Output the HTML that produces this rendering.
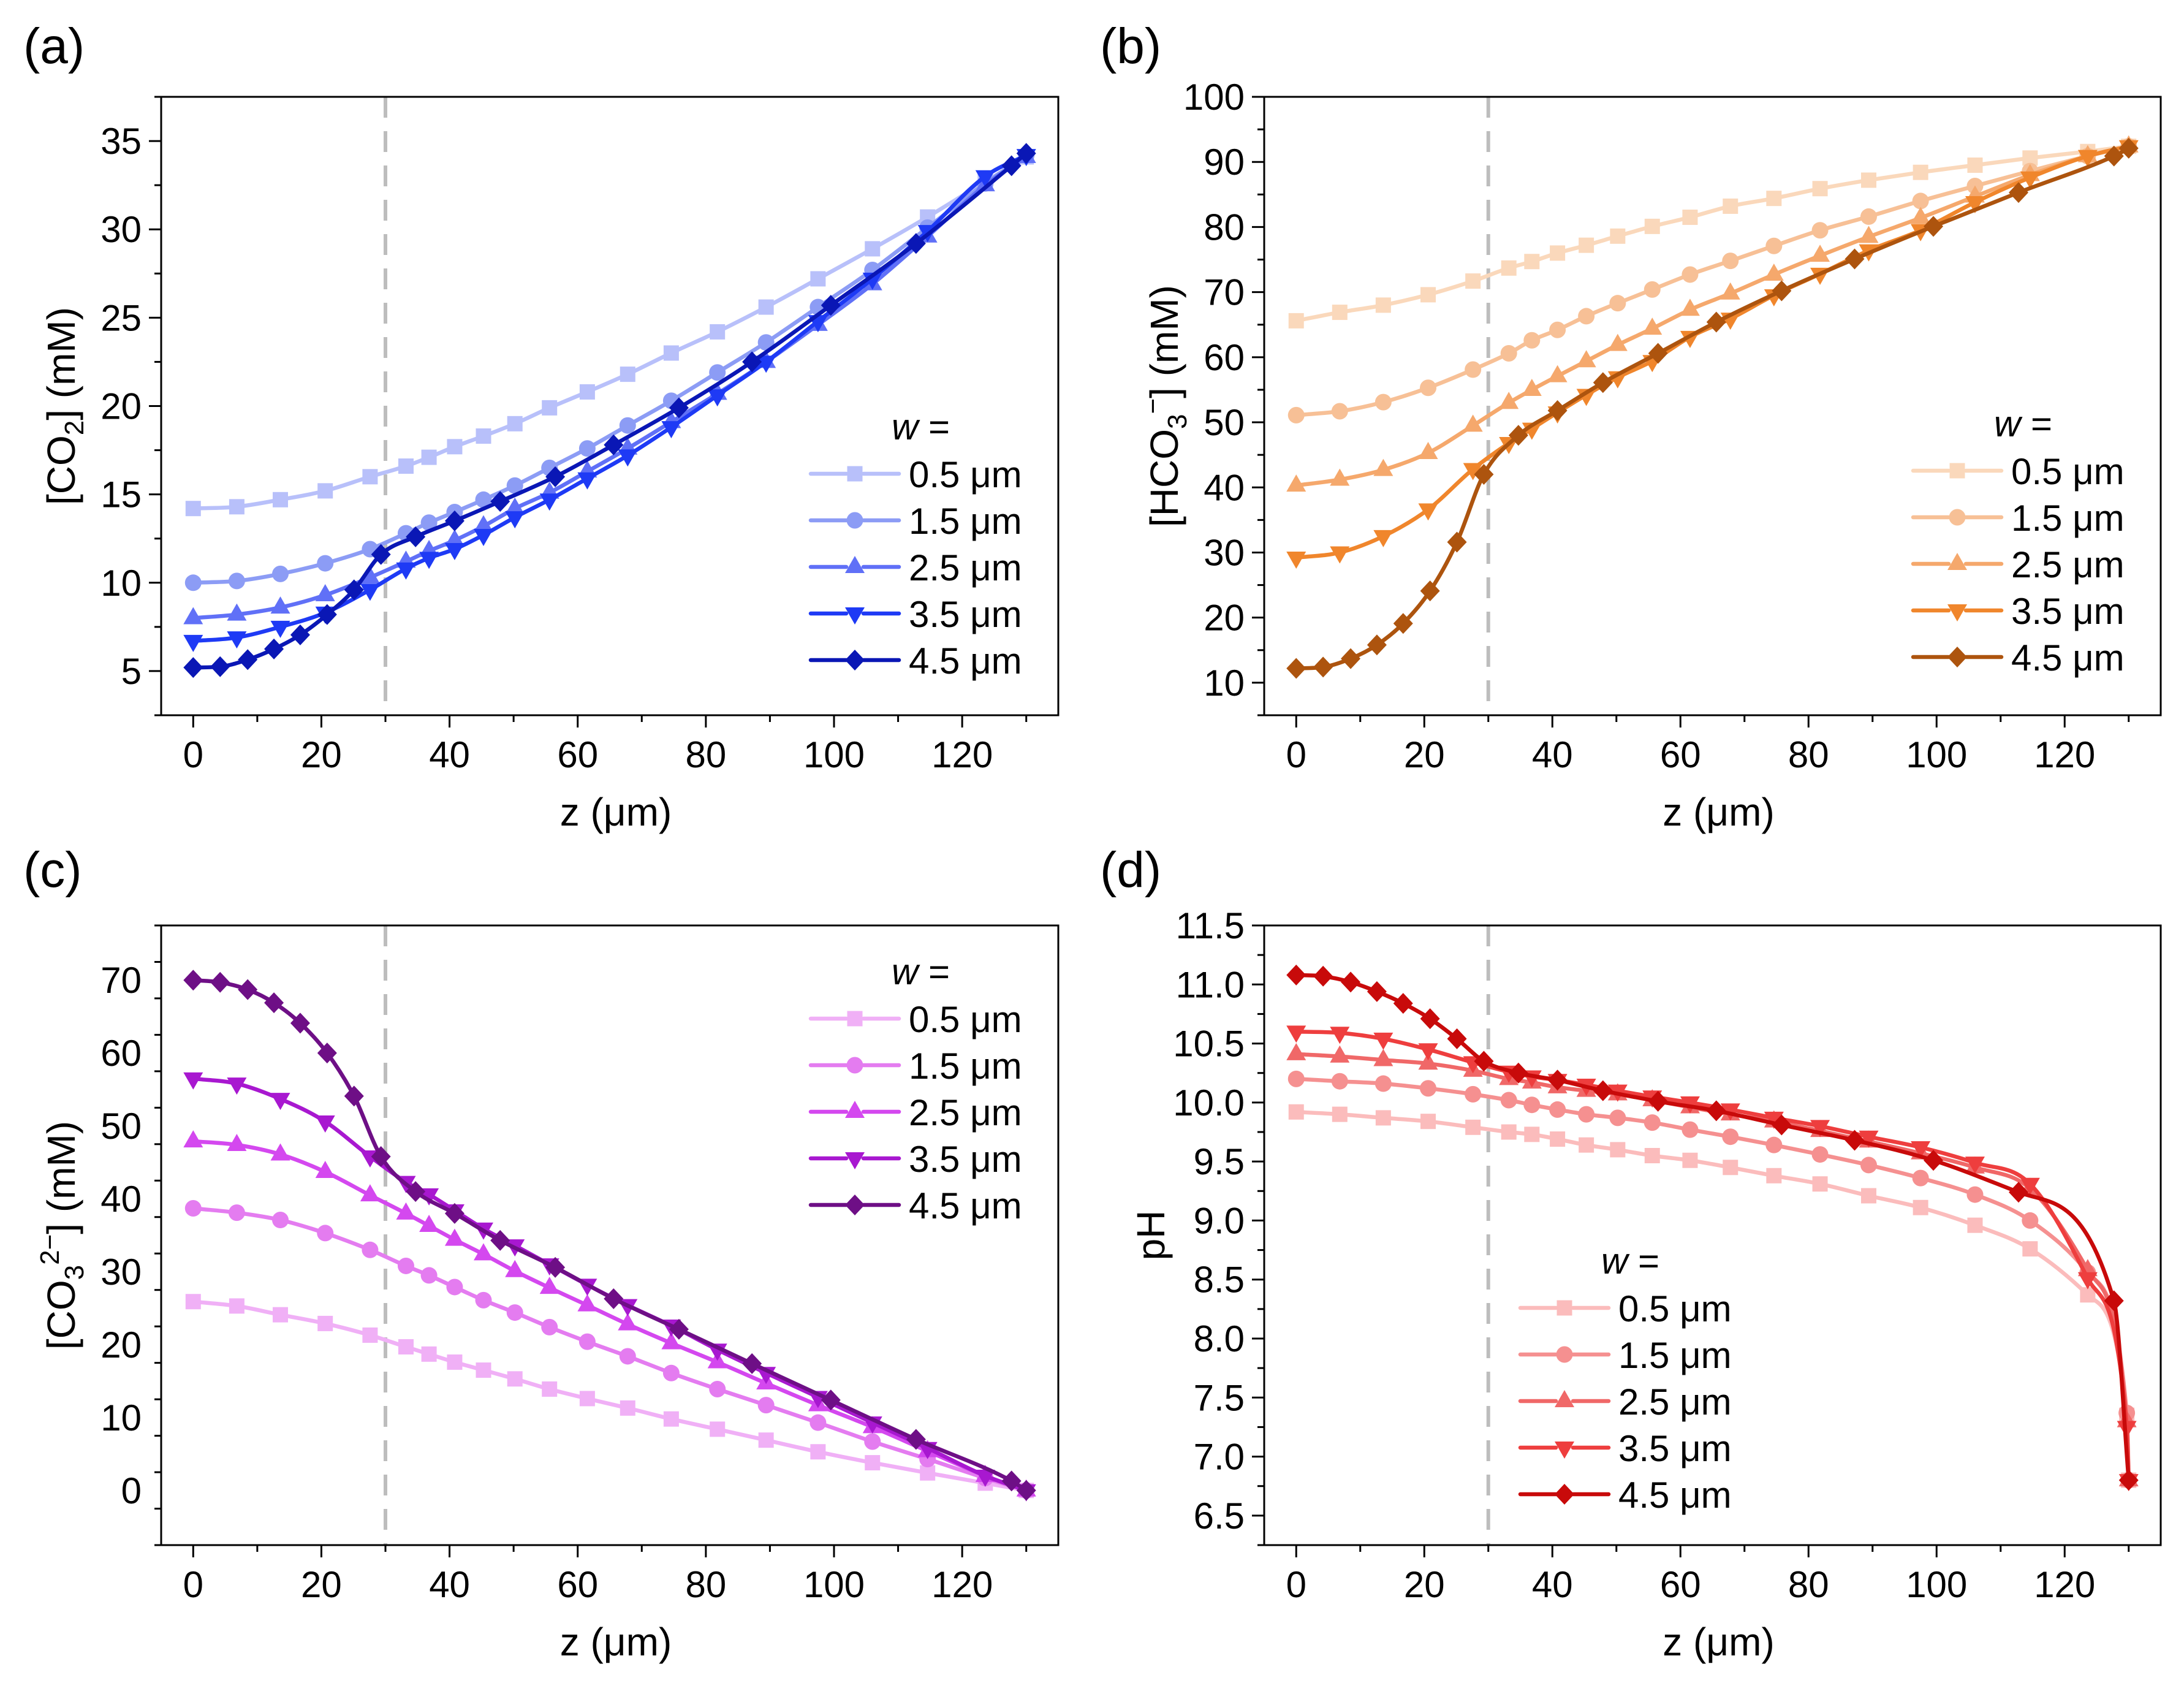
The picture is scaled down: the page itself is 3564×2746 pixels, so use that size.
<!DOCTYPE html>
<html><head><meta charset="utf-8"><style>
html,body{margin:0;padding:0;background:#fff}
svg{display:block;font-family:"Liberation Sans",Arial,sans-serif}
</style></head><body>
<svg id="fig" width="3564" height="2746" viewBox="0 0 3564 2746" xmlns="http://www.w3.org/2000/svg"></svg>
<script>
// ---- data ----
const zS = [0,6.8,13.6,20.6,27.6,33.2,36.8,40.8,45.3,50.2,55.6,61.5,67.8,74.6,81.8,89.4,97.5,106,114.6,123.6,130];
const zD = [0,4.2,8.5,12.6,16.7,20.9,25.1,29.3,34.7,40.8,47.9,56.5,65.6,75.8,87.2,99.5,112.8,127.7,130];
const zSpH = [0,6.8,13.6,20.6,27.6,33.2,36.8,40.8,45.3,50.2,55.6,61.5,67.8,74.6,81.8,89.4,97.5,106,114.6,123.6,129.7,130];
const wLabels = ["0.5 μm","1.5 μm","2.5 μm","3.5 μm","4.5 μm"];
const xTicks = [0,20,40,60,80,100,120];

const co2_05 = [14.2,14.3,14.7,15.2,16.0,16.6,17.1,17.7,18.3,19.0,19.9,20.8,21.8,23.0,24.2,25.6,27.2,28.9,30.7,32.7,34.1];
const co2_15 = [10.0,10.1,10.5,11.1,11.9,12.8,13.4,14.0,14.7,15.5,16.5,17.6,18.9,20.3,21.9,23.6,25.6,27.7,30.1,32.6,34.2];
const co2_25 = [8.0,8.2,8.6,9.3,10.3,11.2,11.8,12.4,13.2,14.2,15.1,16.3,17.6,19.1,20.7,22.5,24.6,26.9,29.6,32.5,34.1];
const co2_35 = [6.7,6.9,7.5,8.3,9.6,10.8,11.4,11.9,12.7,13.7,14.7,15.9,17.2,18.8,20.6,22.5,24.8,27.2,29.9,33.0,34.2];
const co2_45 = [5.2,5.25,5.65,6.25,7.05,8.2,9.6,11.6,12.6,13.5,14.6,16.0,17.8,19.9,22.5,25.7,29.2,33.6,34.3];

const hco3_05 = [65.6,66.9,68.0,69.6,71.7,73.7,74.7,76.0,77.2,78.6,80.1,81.5,83.2,84.4,85.9,87.2,88.4,89.5,90.6,91.6,92.4];
const hco3_15 = [51.1,51.7,53.1,55.3,58.1,60.6,62.6,64.2,66.3,68.3,70.4,72.7,74.8,77.1,79.5,81.6,84.0,86.3,88.6,90.9,92.4];
const hco3_25 = [40.3,41.2,42.7,45.3,49.5,53.0,55.0,57.1,59.4,61.9,64.4,67.3,69.8,72.7,75.6,78.5,81.4,84.7,88.0,90.9,92.4];
const hco3_35 = [29.2,30.0,32.5,36.6,42.8,46.8,49.0,51.5,54.2,56.9,59.4,63.1,65.9,69.5,72.8,76.4,79.5,83.8,87.6,90.9,92.4];
const hco3_45 = [12.2,12.4,13.7,15.8,19.1,24.1,31.6,42.0,48.0,51.8,56.1,60.6,65.4,70.2,75.1,80.1,85.3,90.9,92.1];

const co3_05 = [25.9,25.3,24.1,22.9,21.3,19.7,18.7,17.6,16.5,15.3,13.9,12.6,11.3,9.8,8.4,6.9,5.3,3.8,2.4,1.0,0];
const co3_15 = [38.7,38.1,37.1,35.3,33.0,30.8,29.5,27.9,26.1,24.4,22.4,20.4,18.4,16.1,13.9,11.7,9.3,6.7,4.3,1.7,0];
const co3_25 = [47.9,47.4,46.1,43.7,40.5,38.0,36.3,34.4,32.4,30.1,27.8,25.4,22.8,20.2,17.6,14.7,11.7,8.7,5.4,2.0,0];
const co3_35 = [56.5,55.8,53.7,50.6,45.8,42.3,40.6,38.4,35.9,33.6,31.0,28.2,25.4,22.6,19.3,16.1,12.8,9.3,5.8,2.0,0];
const co3_45 = [70.0,69.7,68.7,66.9,64.1,60.0,54.1,45.8,41.0,38.0,34.3,30.6,26.3,22.1,17.4,12.4,7.0,1.3,0];

const ph_05 = [9.92,9.90,9.87,9.84,9.79,9.75,9.73,9.69,9.64,9.60,9.55,9.51,9.45,9.38,9.31,9.21,9.11,8.96,8.76,8.37,7.35,6.80];
const ph_15 = [10.20,10.18,10.16,10.12,10.07,10.02,9.98,9.94,9.90,9.87,9.83,9.77,9.71,9.64,9.56,9.47,9.36,9.22,9.00,8.56,7.37,6.80];
const ph_25 = [10.41,10.39,10.36,10.33,10.27,10.20,10.17,10.13,10.10,10.07,10.02,9.96,9.90,9.84,9.76,9.67,9.57,9.45,9.27,8.58,7.30,6.80];
const ph_35 = [10.60,10.59,10.54,10.45,10.34,10.26,10.22,10.19,10.15,10.10,10.05,10.00,9.94,9.87,9.80,9.71,9.62,9.49,9.31,8.51,7.25,6.80];
const ph_45 = [11.08,11.07,11.02,10.94,10.84,10.71,10.54,10.35,10.25,10.19,10.10,10.01,9.93,9.81,9.68,9.51,9.24,8.32,6.80];

const yTicksA = [5,10,15,20,25,30,35];
const yTicksB = [10,20,30,40,50,60,70,80,90,100];
const yTicksC = [0,10,20,30,40,50,60,70];
const yTicksD = ["6.5","7.0","7.5","8.0","8.5","9.0","9.5","10.0","10.5","11.0","11.5"];

const markers = ["square","circle","up","down","diamond"];
const NS = "http://www.w3.org/2000/svg";
const svg = document.getElementById("fig");
function mk(tag, attrs, parent){
  const e = document.createElementNS(NS, tag);
  for (const k in attrs) e.setAttribute(k, attrs[k]);
  (parent||svg).appendChild(e);
  return e;
}
function marker(g, type, x, y, color){
  let e;
  if (type==="square"){ e = mk("rect",{x:x-12.5,y:y-12.5,width:25,height:25,fill:color},g); }
  else if (type==="circle"){ e = mk("circle",{cx:x,cy:y,r:13.5,fill:color},g); }
  else if (type==="up"){ e = mk("polygon",{points:`${x},${y-18} ${x-16},${y+10} ${x+16},${y+10}`,fill:color},g); }
  else if (type==="down"){ e = mk("polygon",{points:`${x},${y+18} ${x-16},${y-10} ${x+16},${y-10}`,fill:color},g); }
  else { e = mk("polygon",{points:`${x},${y-17} ${x+16},${y} ${x},${y+17} ${x-16},${y}`,fill:color},g); }
  
  
  return e;
}
// monotone cubic (Fritsch-Carlson) path through pixel points
function monoPath(P){
  const n=P.length; if(n<2) return "";
  const d=[], m=[];
  for(let i=0;i<n-1;i++){ const dx=P[i+1][0]-P[i][0]; d.push(dx===0?0:(P[i+1][1]-P[i][1])/dx); }
  m[0]=d[0]; m[n-1]=d[n-2];
  for(let i=1;i<n-1;i++){ m[i]=(d[i-1]*d[i]<=0)?0:(d[i-1]+d[i])/2; }
  for(let i=0;i<n-1;i++){
    if(d[i]===0){m[i]=0;m[i+1]=0;continue;}
    const a=m[i]/d[i], b=m[i+1]/d[i], s=a*a+b*b;
    if(s>9){const t=3/Math.sqrt(s); m[i]=t*a*d[i]; m[i+1]=t*b*d[i];}
  }
  let s=`M${P[0][0].toFixed(1)},${P[0][1].toFixed(1)}`;
  for(let i=0;i<n-1;i++){
    const h=(P[i+1][0]-P[i][0])/3;
    s+=` C${(P[i][0]+h).toFixed(1)},${(P[i][1]+m[i]*h).toFixed(1)} ${(P[i+1][0]-h).toFixed(1)},${(P[i+1][1]-m[i+1]*h).toFixed(1)} ${P[i+1][0].toFixed(1)},${P[i+1][1].toFixed(1)}`;
  }
  return s;
}

function panel(cfg){
  const g = mk("g",{});
  
  
  const L=cfg.L,R=cfg.R,T=cfg.T,B=cfg.B;
  const xs = v => L + (v - (-5))/(135-(-5))*(R-L);
  const ys = v => B - (v - cfg.y0)/(cfg.y1-cfg.y0)*(B-T);
  const dl = mk("line",{x1:xs(30),x2:xs(30),y1:T,y2:B,stroke:"#bdbdbd","stroke-width":6,"stroke-dasharray":"34,22"},g);
  
  
  cfg.series.forEach((s,i)=>{
    const sg = mk("g",{},g);
    
    
    const P = s.z.map((z,j)=>[xs(z), ys(s.v[j])]);
    const pl = mk("path",{d:monoPath(P),fill:"none",stroke:s.c,"stroke-width":6.5,"stroke-linejoin":"round","stroke-linecap":"round"},sg);
    
    
    s.z.forEach((z,j)=>marker(sg,markers[i],xs(z),ys(s.v[j]),s.c));
  });
  const fr = mk("rect",{x:L,y:T,width:R-L,height:B-T,fill:"none",stroke:"#000","stroke-width":3},g);
  
  
  for (let v=0; v<=130; v+=10){
    const major = v%20===0;
    mk("line",{x1:xs(v),x2:xs(v),y1:B,y2:B+(major?20:11),stroke:"#000","stroke-width":3},g);
  }
  xTicks.forEach(v=>{
    const t = mk("text",{x:xs(v),y:B+85,"font-size":60,"text-anchor":"middle"},g);
    t.textContent = v;
    
    
  });
  const step = cfg.yStep;
  for (let v=cfg.y0; v<=cfg.y1+1e-6; v+=step/2){
    const vv = Math.round(v*1000)/1000;
    const major = cfg.yTicks.map(Number).some(t=>Math.abs(t-vv)<1e-6);
    mk("line",{x1:L,x2:L-(major?20:11),y1:ys(vv),y2:ys(vv),stroke:"#000","stroke-width":3},g);
  }
  cfg.yTicks.forEach(v=>{
    const t = mk("text",{x:L-32,y:ys(Number(v))+21,"font-size":60,"text-anchor":"end"},g);
    t.textContent = v;
    
    
  });
  const xt = mk("text",{x:(L+R)/2+10,y:B+180,"font-size":64,"text-anchor":"middle"},g);
  xt.textContent = "z (μm)";
  
  
  const yt = mk("text",{transform:`translate(${cfg.ytX},${(T+B)/2}) rotate(-90)`,"font-size":64,"text-anchor":"middle"},g);
  yt.innerHTML = cfg.ytitle;
  
  
  const pl = mk("text",{x:cfg.lblX,y:cfg.lblY,"font-size":82},g);
  pl.textContent = cfg.label;
  
  
  const lg = mk("g",{},g);
  
  
  const wt = mk("text",{x:cfg.legX+132,y:cfg.legY-56,"font-size":60},lg);
  wt.innerHTML = '<tspan font-style="italic">w</tspan> =';
  
  
  cfg.series.forEach((s,i)=>{
    const y = cfg.legY + i*76;
    const eg = mk("g",{},lg);
    
    
    mk("line",{x1:cfg.legX,x2:cfg.legX+58,y1:y,y2:y,stroke:s.c,"stroke-width":6.5,"stroke-linecap":"round"},eg);
    mk("line",{x1:cfg.legX+86,x2:cfg.legX+144,y1:y,y2:y,stroke:s.c,"stroke-width":6.5,"stroke-linecap":"round"},eg);
    marker(eg,markers[i],cfg.legX+72,y,s.c);
    const tx = mk("text",{x:cfg.legX+160,y:y+22,"font-size":60},eg);
    tx.textContent = wLabels[i];
    
    
  });
}

panel({name:"panel-a-co2",label:"(a)",lblX:38,lblY:103,L:263,R:1727,T:158,B:1167,y0:2.5,y1:37.5,yStep:5,yTicks:yTicksA,ytX:122,
  ytitle:'[CO<tspan font-size="44" dy="14">2</tspan><tspan dy="-14">] (mM)</tspan>',
  legX:1323,legY:773,
  series:[{z:zS,v:co2_05,c:"#b8c0fa"},{z:zS,v:co2_15,c:"#8c9cf5"},{z:zS,v:co2_25,c:"#6070f7"},{z:zS,v:co2_35,c:"#1e3af5"},{z:zD,v:co2_45,c:"#0a17b5"}]});
panel({name:"panel-b-hco3",label:"(b)",lblX:1795,lblY:103,L:2063,R:3526,T:158,B:1167,y0:5,y1:100,yStep:10,yTicks:yTicksB,ytX:1922,
  ytitle:'[HCO<tspan font-size="44" dy="14">3</tspan><tspan font-size="44" dy="-40">−</tspan><tspan dy="26">] (mM)</tspan>',
  legX:3122,legY:768,
  series:[{z:zS,v:hco3_05,c:"#fad8bb"},{z:zS,v:hco3_15,c:"#f7c096"},{z:zS,v:hco3_25,c:"#f5a86c"},{z:zS,v:hco3_35,c:"#f0862c"},{z:zD,v:hco3_45,c:"#ad540e"}]});
panel({name:"panel-c-co3",label:"(c)",lblX:38,lblY:1447,L:263,R:1727,T:1510,B:2521,y0:-7.5,y1:77.5,yStep:10,yTicks:yTicksC,ytX:122,
  ytitle:'[CO<tspan font-size="44" dy="14">3</tspan><tspan font-size="44" dy="-40">2−</tspan><tspan dy="26">] (mM)</tspan>',
  legX:1323,legY:1662,
  series:[{z:zS,v:co3_05,c:"#f0b0f6"},{z:zS,v:co3_15,c:"#e47cf0"},{z:zS,v:co3_25,c:"#d448ef"},{z:zS,v:co3_35,c:"#a818d0"},{z:zD,v:co3_45,c:"#6e0f86"}]});
panel({name:"panel-d-ph",label:"(d)",lblX:1795,lblY:1447,L:2063,R:3526,T:1510,B:2521,y0:6.25,y1:11.5,yStep:0.5,yTicks:yTicksD,ytX:1900,
  ytitle:'pH',
  legX:2481,legY:2134,
  series:[{z:zSpH,v:ph_05,c:"#fbbcbc"},{z:zSpH,v:ph_15,c:"#f59090"},{z:zSpH,v:ph_25,c:"#f06868"},{z:zSpH,v:ph_35,c:"#ee3e3e"},{z:zD,v:ph_45,c:"#c80a0a"}]});
</script>
</body></html>
